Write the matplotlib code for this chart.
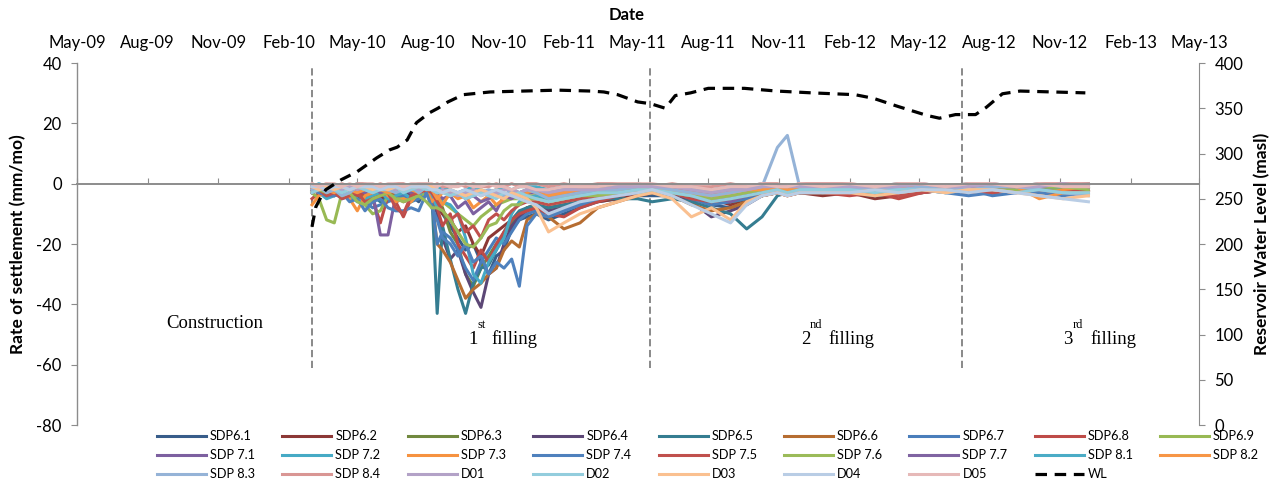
import numpy as np
import pandas as pd
import matplotlib
matplotlib.use("Agg")
import matplotlib.pyplot as plt
import matplotlib.dates as mdates

plt.rcParams['font.family'] = ['Lato', 'DejaVu Sans']
plt.rcParams['axes.unicode_minus'] = False

W, H = 1278, 484

# survey dates shared by all settlement series
dates = pd.to_datetime([
    '2010-03-03', '2010-03-12', '2010-03-22', '2010-04-01', '2010-04-11', '2010-04-21',
    '2010-05-01', '2010-05-11', '2010-05-21', '2010-05-31', '2010-06-10', '2010-06-20',
    '2010-06-30', '2010-07-10', '2010-07-20', '2010-07-30',
    '2010-08-06', '2010-08-13', '2010-08-20', '2010-08-30', '2010-09-09', '2010-09-19',
    '2010-09-29', '2010-10-09', '2010-10-19', '2010-10-29', '2010-11-08', '2010-11-18',
    '2010-11-28', '2010-12-08', '2010-12-20',
    '2011-01-05', '2011-01-25', '2011-02-15', '2011-03-10', '2011-04-05', '2011-05-01',
    '2011-05-20',
    '2011-06-15', '2011-07-10', '2011-08-05', '2011-08-30', '2011-09-20', '2011-10-10',
    '2011-10-30', '2011-11-12', '2011-11-28', '2011-12-28',
    '2012-02-01', '2012-03-05', '2012-04-05', '2012-05-05', '2012-06-05', '2012-07-05',
    '2012-08-05', '2012-09-05', '2012-10-05', '2012-11-05', '2012-12-08',
])

# rate of settlement (mm/mo)
sdp6_1 = [-1, -2, -3, -2, -4, -3, -5, -4, -3, -5, -4, -6, -5, -4, -6, -2,
          -4, -8, -10, -14, -18, -22, -20, -26, -30, -24, -22, -15, -12, -11, -10,
          -12, -10, -8, -6, -5, -4, -4,
          -4, -5, -7, -8, -6, -4, -3, -3, -3, -3,
          -3, -4, -3, -2, -2, -3, -2, -2, -3, -2, -2]
sdp6_2 = [-2, -1, -2, -3, -2, -4, -3, -2, -4, -5, -3, -4, -6, -5, -4, -1,
          -3, -6, -10, -12, -16, -14, -20, -24, -18, -16, -14, -12, -10, -8, -7,
          -9, -8, -7, -6, -5, -4, -3,
          -4, -6, -5, -7, -5, -4, -3, -4, -3, -4,
          -3, -5, -4, -3, -2, -2, -3, -2, -2, -3, -2]
sdp6_3 = [-1, -3, -2, -1, -3, -2, -4, -3, -2, -3, -5, -4, -3, -2, -4, -1,
          -2, -5, -8, -16, -20, -30, -34, -28, -24, -20, -17, -13, -10, -8, -7,
          -8, -7, -6, -5, -4, -3, -3,
          -3, -4, -5, -6, -5, -4, -2, -3, -2, -3,
          -2, -3, -2, -2, -1, -2, -2, -1, -2, -2, -1]
sdp6_4 = [-2, -1, -3, -2, -1, -3, -2, -4, -3, -2, -3, -2, -4, -3, -2, -1,
          -3, -10, -18, -25, -22, -30, -36, -41, -30, -28, -20, -14, -11, -9, -8,
          -9, -8, -6, -5, -4, -3, -3,
          -4, -6, -11, -9, -7, -4, -3, -3, -3, -2,
          -2, -3, -2, -2, -2, -1, -2, -1, -2, -1, -1]
sdp6_5 = [-3, -2, -4, -3, -2, -5, -4, -3, -4, -6, -5, -4, -5, -6, -3, -2,
          -3, -43, -14, -25, -35, -43, -33, -28, -27, -22, -16, -12, -9, -8, -7,
          -8, -7, -6, -5, -5, -5, -6,
          -5, -6, -8, -10, -15, -11, -4, -3, -3, -3,
          -3, -4, -3, -3, -2, -3, -2, -2, -3, -2, -2]
sdp6_6 = [-2, -3, -2, -4, -3, -2, -3, -5, -4, -3, -2, -4, -3, -5, -4, -2,
          -5, -20, -22, -26, -32, -38, -35, -33, -30, -28, -22, -19, -21, -12, -10,
          -11, -15, -13, -8, -6, -4, -3,
          -4, -7, -9, -8, -6, -4, -3, -4, -3, -2,
          -3, -2, -3, -2, -2, -2, -3, -2, -2, -3, -2]
sdp6_7 = [-1, -2, -4, -3, -5, -4, -3, -6, -8, -7, -6, -5, -4, -6, -5, -3,
          -6, -20, -16, -18, -22, -28, -32, -26, -22, -18, -20, -16, -12, -10, -9,
          -10, -9, -7, -5, -4, -3, -3,
          -3, -5, -7, -6, -5, -3, -2, -3, -2, -3,
          -2, -3, -2, -2, -3, -2, -4, -3, -2, -2, -3]
sdp6_8 = [-5, -3, -2, -4, -3, -2, -4, -3, -5, -13, -4, -6, -11, -5, -3, -2,
          -5, -8, -14, -10, -20, -24, -28, -22, -26, -20, -16, -12, -10, -9, -8,
          -10, -11, -8, -6, -4, -3, -3,
          -3, -5, -6, -5, -4, -3, -3, -4, -3, -3,
          -4, -3, -5, -3, -2, -3, -2, -3, -2, -2, -3]
sdp6_9 = [-3, -5, -12, -13, -3, -4, -5, -7, -10, -9, -4, -5, -5, -6, -3, -4,
          -3, -4, -6, -8, -10, -12, -14, -11, -9, -7, -6, -5, -5, -4, -4,
          -5, -4, -4, -3, -3, -2, -2,
          -3, -4, -3, -5, -4, -3, -2, -3, -2, -2,
          -2, -2, -1, -2, -2, -1, -2, -1, -1, -2, -1]
sdp7_1 = [-1, -2, -1, -3, -2, -1, -2, -3, -3, -17, -17, -4, -2, -3, -2, -1,
          -2, -3, -5, -4, -8, -6, -10, -8, -6, -9, -4, -5, -3, -3, -3,
          -4, -3, -3, -2, -2, -2, -2,
          -2, -3, -4, -6, -4, -3, -2, -2, -2, -1,
          -2, -1, -2, -2, -1, -1, -2, -1, -1, -1, -1]
sdp7_2 = [-2, -3, -5, -4, -3, -4, -6, -5, -4, -3, -5, -4, -3, -5, -4, -1,
          -4, -8, -6, -7, -10, -18, -30, -33, -26, -22, -18, -10, -6, -5, -4,
          -5, -5, -4, -3, -3, -2, -2,
          -2, -3, -4, -5, -4, -3, -2, -2, -2, -1,
          -2, -1, -2, -1, -1, -2, -1, -1, -1, -1, -1]
sdp7_3 = [-7, -4, -3, -2, -3, -5, -9, -4, -3, -2, -4, -6, -5, -6, -3, -2,
          -6, -4, -7, -3, -5, -4, -8, -6, -4, -7, -5, -3, -4, -3, -2,
          -3, -3, -2, -2, -2, -1, -2,
          -2, -3, -5, -4, -3, -2, -2, -2, -1, -2,
          -1, -2, -1, -1, -2, -1, -1, -2, -4, -2, -2]
sdp7_4 = [-2, -3, -4, -4, -3, -6, -5, -9, -6, -5, -8, -9, -9, -8, -9, -3,
          -8, -12, -18, -20, -24, -20, -26, -24, -30, -26, -28, -25, -34, -14, -10,
          -11, -9, -7, -5, -4, -3, -3,
          -3, -4, -6, -5, -4, -3, -2, -3, -3, -2,
          -3, -2, -3, -2, -3, -4, -3, -2, -3, -4, -3]
sdp7_5 = [-3, -2, -4, -3, -5, -4, -3, -6, -5, -4, -3, -8, -10, -4, -3, -2,
          -3, -6, -9, -12, -10, -16, -14, -18, -12, -10, -12, -9, -7, -6, -6,
          -7, -6, -5, -4, -4, -3, -3,
          -3, -4, -6, -5, -4, -3, -3, -3, -2, -2,
          -3, -2, -4, -3, -2, -2, -3, -2, -2, -3, -2]
sdp7_6 = [-1, -2, -3, -2, -4, -3, -6, -7, -5, -4, -3, -5, -6, -5, -4, -6,
          -8, -8, -9, -12, -16, -20, -21, -18, -14, -13, -9, -7, -7, -5, -5,
          -6, -5, -4, -4, -3, -3, -3,
          -3, -4, -5, -4, -3, -2, -2, -3, -2, -2,
          -2, -3, -2, -2, -1, -2, -1, -2, -1, -1, -2]
sdp7_7 = [-1, -1, -2, -1, -2, -1, -1, -2, -1, -3, -2, -1, -2, -1, -2, -1,
          -2, -3, -2, -4, -3, -5, -4, -6, -5, -3, -4, -2, -3, -2, -2,
          -2, -2, -2, -1, -1, -1, -1,
          -1, -2, -3, -2, -2, -1, -1, -1, -1, -1,
          -1, -1, -1, -1, -1, -1, -1, -1, -1, 0, -1]
sdp8_1 = [-1, 0, -1, -1, -2, -1, 0, -1, -1, -2, -1, -1, -2, -1, 0, -1,
          -1, -2, -1, -2, -3, -2, -1, -2, -3, -2, -1, -2, -1, -1, -1,
          -2, -1, -1, -1, -1, 0, -1,
          -1, -1, -2, -1, -1, 0, -1, -1, -1, -1,
          -1, -1, 0, -1, -1, 0, -1, -1, 0, -1, 0]
sdp8_2 = [-2, -1, -2, -3, -1, -2, -3, -2, -1, -2, -3, -2, -1, -2, -3, -1,
          -2, -5, -3, -2, -4, -3, -2, -4, -3, -2, -3, -4, -3, -2, -3,
          -4, -3, -2, -2, -1, -1, -1,
          -2, -3, -4, -3, -2, -2, -1, -2, -1, -1,
          -1, -2, -1, -1, -1, -2, -1, -1, -5, -3, -3]
sdp8_3 = [-2, -1, -3, -2, -4, -3, -1, -2, -3, -1, -2, -3, -2, -1, -3, -1,
          -2, -3, -2, -4, -3, -2, -4, -3, -2, -3, -4, -2, -3, -2, -3,
          -5, -4, -3, -2, -2, -1, -1,
          -2, -3, -4, -3, -2, -1, 12, 16, -1, -2,
          -2, -1, -2, -1, -1, -2, -1, -1, -2, -3, -4]
sdp8_4 = [0, -1, 0, -1, 0, -1, 0, 0, -1, 0, -1, 0, 0, -1, 0, 0,
          -1, 0, -1, -1, 0, -1, 0, -1, -1, 0, -1, 0, -1, 0, 0,
          -1, 0, -1, 0, 0, 0, -1,
          0, -1, -1, 0, -1, 0, 0, -1, 0, 0,
          0, -1, 0, 0, -1, 0, 0, -1, 0, 0, 0]
d01 = [-1, -2, -1, -1, -2, -1, -2, -1, -1, -2, -1, -2, -1, -1, -2, -1,
       -2, -3, -2, -3, -4, -3, -2, -3, -4, -3, -2, -2, -3, -2, -2,
       -3, -2, -2, -2, -1, -1, -1,
       -1, -2, -3, -2, -2, -1, -1, -1, -1, -1,
       -1, -1, -1, 0, -1, -1, 0, -1, -1, 0, -1]
d02 = [-3, -2, -1, -2, -3, -2, -1, -2, -3, -2, -2, -1, -3, -2, -1, -2,
       -2, -3, -3, -4, -3, -5, -4, -3, -4, -5, -3, -4, -3, -4, -5,
       -6, -5, -4, -3, -3, -2, -2,
       -3, -4, -6, -5, -4, -3, -2, -3, -2, -2,
       -2, -3, -2, -2, -3, -2, -2, -3, -2, -3, -3]
d03 = [-1, -2, -1, -2, -1, -2, -1, -1, -2, -1, -2, -1, -2, -1, -1, -1,
       -1, -2, -3, -2, -3, -4, -3, -2, -3, -4, -5, -3, -4, -5, -8,
       -16, -13, -10, -8, -6, -4, -3,
       -5, -11, -8, -12, -6, -4, -3, -4, -3, -3,
       -3, -4, -3, -2, -3, -2, -2, -3, -4, -5, -4]
d04 = [-1, -1, -2, -1, -1, -2, -1, -1, -1, -2, -1, -1, -2, -1, -1, -1,
       -2, -2, -3, -2, -3, -2, -3, -4, -3, -2, -3, -4, -5, -6, -7,
       -10, -8, -6, -5, -4, -3, -2,
       -4, -7, -10, -13, -7, -4, -3, -4, -3, -3,
       -3, -2, -3, -2, -2, -3, -2, -3, -4, -5, -6]
d05 = [0, -1, 0, 0, -1, 0, -1, 0, 0, -1, 0, 0, -1, 0, 0, 0,
       0, -1, 0, -1, -1, 0, -1, -1, 0, -1, -1, -2, -1, -1, -2,
       -2, -1, -1, -1, 0, 0, 0,
       -1, -1, -2, -1, -1, 0, -1, -1, 0, -1,
       0, -1, 0, 0, -1, 0, 0, -1, 0, -1, -1]

names = ['SDP6.1', 'SDP6.2', 'SDP6.3', 'SDP6.4', 'SDP6.5', 'SDP6.6', 'SDP6.7', 'SDP6.8', 'SDP6.9',
         'SDP 7.1', 'SDP 7.2', 'SDP 7.3', 'SDP 7.4', 'SDP 7.5', 'SDP 7.6', 'SDP 7.7', 'SDP 8.1', 'SDP 8.2',
         'SDP 8.3', 'SDP 8.4', 'D01', 'D02', 'D03', 'D04', 'D05']
values = [sdp6_1, sdp6_2, sdp6_3, sdp6_4, sdp6_5, sdp6_6, sdp6_7, sdp6_8, sdp6_9,
          sdp7_1, sdp7_2, sdp7_3, sdp7_4, sdp7_5, sdp7_6, sdp7_7, sdp8_1, sdp8_2,
          sdp8_3, sdp8_4, d01, d02, d03, d04, d05]
colors = ['#385D8A', '#8C3836', '#71893F', '#5C4776', '#357D91', '#B66D31', '#4A7EBB', '#BE4B48', '#98B954',
          '#7D60A0', '#46AAC5', '#F69240', '#4F81BD', '#C0504D', '#9BBB59', '#8064A2', '#4BACC6', '#F79646',
          '#95B3D7', '#D99694', '#B3A2C7', '#93CDDD', '#FAC090', '#B9CDE5', '#E6B9B8']

# reservoir water level (masl)
wl_dates = pd.to_datetime([
    '2010-03-03', '2010-03-08', '2010-03-16', '2010-03-21', '2010-04-10', '2010-05-01',
    '2010-05-26', '2010-06-12', '2010-06-22', '2010-07-05', '2010-07-17', '2010-08-03',
    '2010-08-14', '2010-08-27', '2010-09-16', '2010-10-21', '2010-12-03', '2011-01-17',
    '2011-03-01', '2011-03-18', '2011-04-05', '2011-05-01', '2011-05-18', '2011-06-06',
    '2011-06-19', '2011-07-09', '2011-08-01', '2011-09-17', '2011-10-29', '2011-12-14',
    '2012-02-08', '2012-03-03', '2012-04-04', '2012-05-12', '2012-05-28', '2012-06-18',
    '2012-07-14', '2012-07-28', '2012-08-18', '2012-09-10', '2012-12-04',
])
wl_level = [219, 241, 254, 260, 271, 280,
            295, 304, 307, 315, 334, 345,
            350, 357, 365, 368, 369, 370,
            369, 368, 365, 357, 355, 350,
            364, 367, 372, 372, 369, 367,
            365, 361, 352, 342, 339, 343,
            343, 351, 366, 369, 367]

filling_starts = pd.to_datetime(['2010-03-03', '2011-05-17', '2012-06-26'])

fig = plt.figure(figsize=(W / 100, H / 100), dpi=100)
ax = fig.add_axes([77 / W, 1 - 425 / H, (1199 - 77) / W, (425 - 63) / H])

for v, c, n in zip(values, colors, names):
    ax.plot(dates, v, color=c, lw=2.2, label=n)

ax.vlines(filling_starts, -61, 39, colors='#808080', lw=1.3, linestyles=[(0, (4, 2))], zorder=1)

ax.set_xlim(pd.Timestamp('2009-05-01'), pd.Timestamp('2013-05-01'))
ax.set_ylim(-80, 40)
ax.set_yticks(np.arange(-80, 41, 20))

ax.xaxis.set_major_locator(mdates.MonthLocator(bymonth=[2, 5, 8, 11]))
ax.xaxis.set_major_formatter(mdates.DateFormatter('%b-%y'))

ax.spines['bottom'].set_position(('data', 0))
ax.spines['top'].set_visible(False)
ax.spines['right'].set_visible(False)
for s in ['bottom', 'left']:
    ax.spines[s].set_color('#8C8C8C')
ax.spines['bottom'].set_linewidth(1.4)
ax.spines['left'].set_linewidth(1.0)

ax.tick_params(axis='x', bottom=True, top=False, labelbottom=False, labeltop=True,
               direction='in', length=4, color='#8C8C8C', labelsize=12, pad=8.5)
ax.tick_params(axis='y', direction='out', length=4, color='#8C8C8C', labelsize=12, pad=7)

ax2 = ax.twinx()
ax2.plot(wl_dates, wl_level, color='black', lw=2.3, ls=(0, (3.6, 2.4)), label='WL')
ax2.set_ylim(0, 400)
ax2.set_yticks(np.arange(0, 401, 50))
for s in ['top', 'bottom', 'left']:
    ax2.spines[s].set_visible(False)
ax2.spines['right'].set_color('#8C8C8C')
ax2.tick_params(axis='y', direction='out', length=4, color='#8C8C8C', labelsize=12, pad=7)

fig.text(627 / W, 1 - 15 / H, 'Date', ha='center', va='center', fontsize=12, fontweight='bold')
fig.text(18 / W, 1 - 244 / H, 'Rate of settlement (mm/mo)', rotation=90, ha='center', va='center',
         fontsize=12.5, fontweight='bold')
fig.text(1262 / W, 1 - 244 / H, 'Reservoir Water Level (masl)', rotation=90, ha='center', va='center',
         fontsize=12.5, fontweight='bold')

serif = 'Liberation Serif'
fig.text(215 / W, 1 - 323 / H, 'Construction', family=serif, fontsize=13.5, ha='center', va='center')
for num, sup, xn, xs, xf in [('1', 'st', 468, 477, 491), ('2', 'nd', 801, 810, 828),
                             ('3', 'rd', 1063, 1073, 1090)]:
    fig.text(xn / W, 1 - 339 / H, num, family=serif, fontsize=13.5, ha='left', va='center')
    fig.text(xs / W, 1 - 325 / H, sup, family=serif, fontsize=9, ha='left', va='center')
    fig.text(xf / W, 1 - 339 / H, 'filling', family=serif, fontsize=13.5, ha='left', va='center')

# legend, filled row by row like the original (last row one short)
h1, l1 = ax.get_legend_handles_labels()
h2, l2 = ax2.get_legend_handles_labels()
handles = h1 + h2
labels = l1 + l2
ncol, nrow = 9, 3
order = [r * ncol + c for c in range(ncol) for r in range(nrow) if r * ncol + c < len(handles)]
fig.legend([handles[i] for i in order], [labels[i] for i in order],
           loc='upper left', bbox_to_anchor=(157 / W, 1 - 430 / H), ncol=ncol, frameon=False,
           fontsize=9.2, handlelength=3.83, handletextpad=0.31, columnspacing=2.15,
           labelspacing=0.55, borderpad=0, borderaxespad=0)

fig.savefig('out.png', dpi=100)
